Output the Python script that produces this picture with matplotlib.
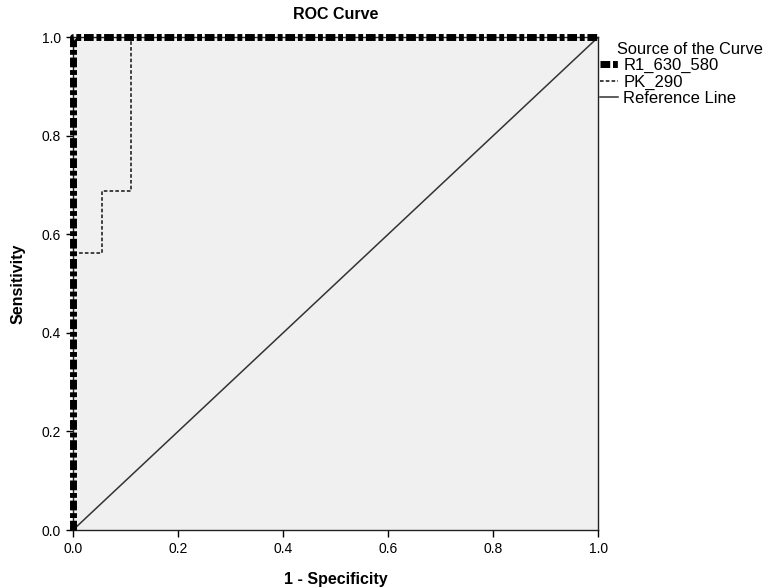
import matplotlib
matplotlib.use('Agg')
import matplotlib.pyplot as plt

# ROC data
r1_fpr = [0.0, 0.0, 1.0]
r1_tpr = [0.0, 1.0, 1.0]
pk_fpr = [0.0, 0.0, 0.0556, 0.0556, 0.1111, 0.1111, 1.0]
pk_tpr = [0.0, 0.5625, 0.5625, 0.6875, 0.6875, 1.0, 1.0]
ref = [0.0, 1.0]
ticks = [0.0, 0.2, 0.4, 0.6, 0.8, 1.0]

plt.rcParams['font.family'] = ['Liberation Sans', 'DejaVu Sans']

fig = plt.figure(figsize=(7.71, 5.88), dpi=100)
ax = fig.add_axes([0.0947, 0.0986, 0.681, 0.838])
ax.set_facecolor('#f0f0f0')

ax.plot(ref, ref, color='#333333', lw=1.1, label='Reference Line', zorder=2)
ax.plot(pk_fpr, pk_tpr, color='#333333', lw=1.3, ls=(0, (2, 1.2)), label='PK_290', zorder=3)
ax.plot(r1_fpr, r1_tpr, color='black', lw=5, ls=(0, (1.4, 0.4, 0.7, 0.4)),
        label='R1_630_580', zorder=4, clip_on=False)

ax.set_xlim(0, 1)
ax.set_ylim(0, 1)
ax.set_xticks(ticks)
ax.set_yticks(ticks)
ax.set_xticklabels(['%.1f' % t for t in ticks])
ax.set_yticklabels(['%.1f' % t for t in ticks])
ax.tick_params(direction='out', length=5, width=1, labelsize=10, top=False, right=False)
for s in ax.spines.values():
    s.set_color('#222222')
    s.set_linewidth(1)

ax.set_title('ROC Curve', fontweight='bold', fontsize=11.5, pad=13)
ax.set_xlabel('1 - Specificity', fontweight='bold', fontsize=11.5, labelpad=12)
ax.set_ylabel('Sensitivity', fontweight='bold', fontsize=11.5, labelpad=12)

# legend title drawn separately, it sits indented from the handles
ax.text(1.036, 0.976, 'Source of the Curve', transform=ax.transAxes,
        ha='left', va='center', fontsize=11.8)
handles, labels = ax.get_legend_handles_labels()
leg = ax.legend(handles[::-1], labels[::-1], loc='upper left',
                bbox_to_anchor=(1.004, 0.958), frameon=False, fontsize=12,
                handlelength=1.1, handletextpad=0.3, labelspacing=0.08,
                borderaxespad=0, borderpad=0)

plt.savefig('out.png', dpi=100)
